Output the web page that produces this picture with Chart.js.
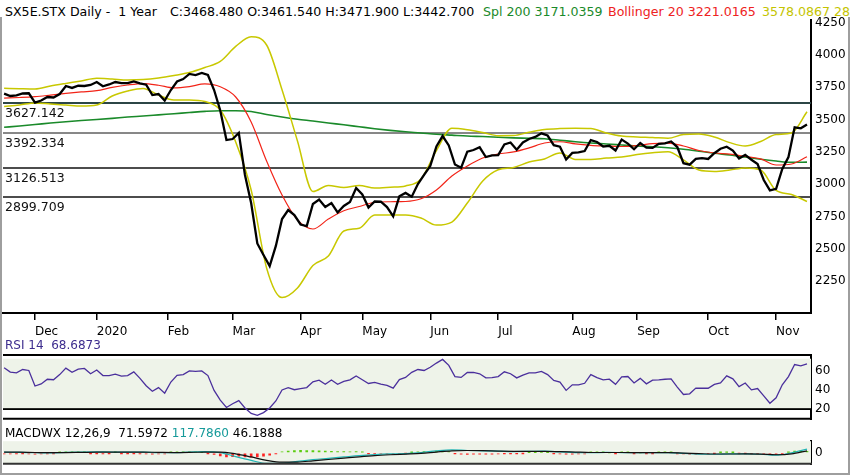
<!DOCTYPE html>
<html>
<head>
<meta charset="utf-8">
<script src="https://cdn.jsdelivr.net/npm/chart.js"></script>
<style>
  body { margin: 0; background: #fff; width: 850px; height: 475px; overflow: hidden; position: relative;
         font-family: 'DejaVu Sans', sans-serif; font-size: 12px; }
  canvas { position: absolute; left: 0; }
  .lbl { position: absolute; white-space: nowrap; line-height: 14px; }
  .hdr { top: 5px; font-size: 12.6px; }
  #frame { position: absolute; left: 0; top: 17px; width: 850px; height: 458px; box-sizing: border-box;
           border: 2px solid #9e9e9e; border-top: none; pointer-events: none; }
</style>
</head>
<body>
<div class="lbl hdr" style="left:5px">SX5E.STX Daily -&nbsp; 1 Year</div>
<div class="lbl hdr" style="left:170px">C:3468.480 O:3461.540 H:3471.900 L:3442.700</div>
<div class="lbl hdr" style="left:483px;color:#1a8a2a">Spl 200 3171.0359</div>
<div class="lbl hdr" style="left:608px;color:#ee2222">Bollinger 20 3221.0165</div>
<div class="lbl hdr" style="left:762px;color:#c4c400">3578.0867 28</div>

<canvas id="main" width="850" height="340" style="top:0"></canvas>
<canvas id="rsiChart" width="850" height="90" style="top:340px"></canvas>
<canvas id="macdChart" width="850" height="45" style="top:430px"></canvas>

<div class="lbl" style="left:5px;top:338px;color:#3d2d8e">RSI 14&nbsp; 68.6873</div>
<div class="lbl" style="left:5px;top:426px">MACDWX 12,26,9&nbsp; 71.5972 <span style="color:#169a9a">117.7860</span> 46.1888</div>
<div id="frame"></div>

<script>
// trading-day index of the first sample, spacing of the samples
const FINE_STEP = 2;     // close, RSI, MACD histogram
const SMOOTH_STEP = 5;   // bands, averages, MACD lines

const monthTickDays = [10, 30, 53, 74, 96, 116, 138, 160, 184, 205, 228, 250];
const monthLabels = ['Dec', '2020', 'Feb', 'Mar', 'Apr', 'May', 'Jun', 'Jul', 'Aug', 'Sep', 'Oct', 'Nov'];
const priceTicks = [2250, 2500, 2750, 3000, 3250, 3500, 3750, 4000, 4250];
const levels = [3627.142, 3392.334, 3126.513, 2899.709];
const rsiTicks = [20, 40, 60];
const macdTicks = [0];

const close = [
  3700, 3682, 3687, 3701, 3703, 3630, 3647, 3674, 3670, 3697,
  3759, 3744, 3761, 3759, 3767, 3790, 3757, 3771, 3790, 3781,
  3782, 3795, 3780, 3769, 3689, 3697, 3647, 3728, 3794, 3813,
  3852, 3844, 3860, 3844, 3728, 3570, 3341, 3349, 3396, 3071,
  2854, 2541, 2452, 2367, 2522, 2730, 2800, 2761, 2688, 2676,
  2846, 2881, 2823, 2854, 2781, 2831, 2862, 2970, 2920, 2819,
  2866, 2864, 2823, 2751, 2906, 2932, 2903, 3001, 3071, 3141,
  3291, 3372, 3299, 3152, 3127, 3251, 3264, 3285, 3210, 3222,
  3225, 3307, 3322, 3266, 3322, 3349, 3365, 3393, 3376, 3301,
  3290, 3191, 3242, 3245, 3256, 3341, 3326, 3291, 3297, 3260,
  3345, 3314, 3270, 3318, 3282, 3280, 3312, 3316, 3330, 3287,
  3162, 3151, 3195, 3201, 3195, 3239, 3274, 3290, 3260, 3198,
  3226, 3189, 3156, 3032, 2952, 2964, 3117, 3210, 3440, 3432,
  3462
];

const bollUpper = [
  3741, 3738, 3736, 3759, 3779, 3798, 3819, 3813, 3806, 3809,
  3821, 3840, 3863, 3902, 3949, 4065, 4140, 4076, 3730, 3334,
  2943, 2990, 2974, 2990, 2970, 2976, 2986, 3040, 3260, 3432,
  3421, 3399, 3375, 3376, 3401, 3423, 3430, 3432, 3430, 3396,
  3372, 3365, 3361, 3355, 3384, 3388, 3365, 3321, 3295, 3330,
  3384, 3396, 3560
];
const bollLower = [
  3600, 3612, 3628, 3620, 3612, 3604, 3612, 3682, 3720, 3740,
  3689, 3651, 3651, 3639, 3573, 3326, 2955, 2352, 2123, 2197,
  2371, 2444, 2638, 2659, 2761, 2761, 2761, 2738, 2684, 2707,
  2854, 3024, 3111, 3129, 3171, 3195, 3241, 3191, 3191, 3202,
  3210, 3229, 3243, 3251, 3187, 3109, 3098, 3109, 3125, 3109,
  2951, 2920, 2866
];
const bollMid = [
  3665, 3670, 3677, 3689, 3702, 3713, 3723, 3748, 3767, 3778,
  3765, 3744, 3754, 3775, 3753, 3674, 3481, 3179, 2916, 2723,
  2653, 2730, 2794, 2827, 2859, 2864, 2866, 2887, 2955, 3063,
  3140, 3202, 3233, 3249, 3280, 3318, 3328, 3311, 3300, 3295,
  3291, 3299, 3314, 3318, 3295, 3260, 3241, 3232, 3214, 3195,
  3148, 3156, 3212
];
const spl200 = [
  3440, 3450, 3461, 3473, 3483, 3492, 3500, 3509, 3519, 3527,
  3536, 3545, 3554, 3563, 3568, 3568, 3562, 3539, 3519, 3502,
  3488, 3473, 3459, 3444, 3429, 3416, 3405, 3396, 3386, 3379,
  3372, 3368, 3363, 3358, 3355, 3351, 3340, 3328, 3318, 3311,
  3303, 3295, 3289, 3281, 3270, 3255, 3239, 3226, 3210, 3193,
  3179, 3169, 3170
];

const rsi = [
  63.1, 58.5, 57.8, 61.2, 60.2, 44.0, 46.2, 51.1, 50.6, 55.9,
  62.6, 58.3, 61.6, 62.3, 56.8, 60.7, 54.9, 54.9, 56.3, 54.4,
  54.9, 58.8, 52.0, 44.3, 38.6, 42.4, 36.6, 48.2, 55.2, 55.9,
  59.7, 59.2, 59.7, 54.9, 39.5, 29.4, 21.7, 25.6, 28.9, 21.2,
  15.5, 13.6, 16.4, 21.2, 28.5, 40.0, 42.4, 40.2, 41.4, 42.4,
  48.4, 50.1, 45.8, 50.3, 45.8, 48.8, 50.4, 54.4, 50.6, 46.7,
  47.9, 46.1, 44.8, 41.9, 50.8, 53.0, 58.3, 61.2, 60.2, 63.6,
  67.9, 71.7, 65.5, 53.9, 53.0, 58.1, 58.3, 56.8, 52.5, 52.7,
  53.9, 58.8, 56.8, 52.5, 55.4, 57.8, 57.8, 59.2, 55.9, 49.9,
  48.2, 39.5, 45.3, 45.3, 46.9, 55.9, 52.7, 50.4, 51.2, 45.8,
  53.5, 53.9, 47.2, 52.0, 46.3, 50.1, 50.4, 51.1, 51.5, 42.9,
  35.2, 35.9, 41.9, 41.7, 41.7, 45.8, 47.2, 54.6, 51.5, 43.4,
  47.2, 40.0, 41.4, 33.8, 26.1, 31.8, 45.3, 53.9, 66.4, 65.0,
  67.0
];

const macd = [
  20, 15, 5, 0, 15, 25, 30, 25, 25, 20,
  5, 5, 25, 40, 10, -110, -220, -310, -300, -250,
  -200, -160, -120, -80, -50, -30, -20, 10, 60, 90,
  70, 60, 50, 40, 45, 50, 30, 10, 5, 15,
  10, 5, 5, 5, -15, -35, -40, -30, -30, -40,
  -70, 0, 110
];
const signal = [
  25, 20, 12, 6, 8, 15, 22, 25, 25, 22,
  15, 10, 15, 25, 25, -30, -120, -220, -275, -270,
  -235, -195, -155, -115, -80, -55, -35, -15, 25, 60,
  70, 65, 55, 47, 45, 47, 40, 25, 12, 12,
  12, 8, 6, 5, -5, -22, -33, -33, -31, -36,
  -55, -30, 60
];
const hist = [
  -25, -30, -20, -15, -25, -35, -30, -20, -10, 15,
  25, 20, 15, 10, -10, -15, -20, -10, 10, -5,
  -10, -15, -20, -30, -40, -30, -25, 15, 25, 30,
  25, 20, 10, -10, -45, -90, -120, -110, -100, -120,
  -130, -120, -100, -70, -20, 30, 55, 70, 75, 70,
  65, 60, 50, 45, 40, 35, 30, 35, 20, -10,
  -20, -25, -30, -40, -20, -5, 10, 25, 35, 45,
  50, 55, 40, -10, -40, -45, -40, -35, -40, -35,
  -30, -15, -10, -15, -5, 5, 10, 15, 5, -15,
  -25, -40, -35, -30, -25, 5, 10, 5, 0, -10,
  5, 5, -5, 0, -5, -5, 5, 5, 10, -5,
  -30, -40, -35, -25, -20, -5, 10, 15, 10, -5,
  -5, -15, -20, -40, -55, -50, -20, 15, 55, 50,
  45
];

const X_MIN = -0.36, X_MAX = 261.3;

Chart.defaults.font.family = "'DejaVu Sans', sans-serif";
Chart.defaults.font.size = 12;
Chart.defaults.color = '#000';

const pts = (arr, step) => arr.map((v, k) => ({ x: k * step, y: v }));

function xScale(show) {
  const s = {
    type: 'linear', min: X_MIN, max: X_MAX, offset: false, display: show,
    afterBuildTicks: sc => { sc.ticks = monthTickDays.map(v => ({ value: v })); },
    ticks: { autoSkip: false, maxRotation: 0, align: 'start', padding: 5,
             callback: (v, i) => monthLabels[i] },
    grid: { drawOnChartArea: false, drawTicks: true, tickLength: 7, color: '#000', lineWidth: 1.5 },
    border: { display: true, color: '#000', width: 2 }
  };
  if (show) s.afterFit = sc => { sc.height = 27; };
  return s;
}

function yScale(min, max, ticks, gridAt) {
  return {
    position: 'right', min: min, max: max,
    afterBuildTicks: s => { s.ticks = ticks.map(v => ({ value: v })); },
    ticks: { padding: 4, callback: v => String(v) },
    grid: gridAt === null ? { display: false, drawTicks: false } : {
      drawTicks: false, lineWidth: 2,
      color: c => (c.tick && c.tick.value === gridAt) ? '#000' : 'rgba(0,0,0,0)'
    },
    border: { display: true, color: '#000', width: 2 },
    afterFit: s => { s.width = 39; }
  };
}

// horizontal reference levels with their labels
const levelStyle = [['#2c4646', 2], ['#111', 1], ['#111', 1.5], ['#111', 1.5]];
const levelPlugin = {
  id: 'levels',
  beforeDatasetsDraw(chart) {
    const { ctx, chartArea: a, scales: { y } } = chart;
    ctx.save();
    levels.forEach((v, k) => {
      const py = Math.round(y.getPixelForValue(v));
      ctx.strokeStyle = levelStyle[k][0];
      ctx.lineWidth = levelStyle[k][1];
      ctx.beginPath();
      ctx.moveTo(a.left, py);
      ctx.lineTo(a.right, py);
      ctx.stroke();
      ctx.fillStyle = '#111';
      ctx.font = "12.5px 'DejaVu Sans'";
      ctx.textBaseline = 'top';
      ctx.fillText(v.toFixed(3), a.left + 2, py + 4);
    });
    ctx.restore();
  }
};

// shaded band and top/bottom rules of the indicator panels
const panelPlugin = {
  id: 'panel',
  beforeDatasetsDraw(chart, args, opts) {
    const { ctx, chartArea: a, scales: { y } } = chart;
    ctx.save();
    if (opts.shade) {
      const t = y.getPixelForValue(opts.shade[1]);
      const b = y.getPixelForValue(opts.shade[0]);
      ctx.fillStyle = '#eef3e9';
      ctx.fillRect(a.left, t, a.right - a.left, b - t);
    }
    ctx.restore();
  },
  afterDraw(chart, args, opts) {
    const { ctx, chartArea: a } = chart;
    ctx.save();
    ctx.strokeStyle = opts.edgeColor || '#000';
    ctx.lineWidth = 2;
    (opts.edges || []).forEach(e => {
      const py = e === 'top' ? a.top : a.bottom;
      ctx.beginPath();
      ctx.moveTo(a.left, py);
      ctx.lineTo(a.right + 1, py);
      ctx.stroke();
    });
    ctx.restore();
  }
};

const common = {
  responsive: false,
  animation: false,
  events: [],
  elements: { point: { radius: 0 } },
};

new Chart(document.getElementById('main'), {
  type: 'line',
  data: {
    datasets: [
      { data: pts(close, FINE_STEP), borderColor: '#000', borderWidth: 2.3, tension: 0 },
      { data: pts(bollMid, SMOOTH_STEP), borderColor: '#f22418', borderWidth: 1.2, cubicInterpolationMode: 'monotone' },
      { data: pts(bollUpper, SMOOTH_STEP), borderColor: '#c8c800', borderWidth: 1.5, cubicInterpolationMode: 'monotone' },
      { data: pts(bollLower, SMOOTH_STEP), borderColor: '#c8c800', borderWidth: 1.5, cubicInterpolationMode: 'monotone' },
      { data: pts(spl200, SMOOTH_STEP), borderColor: '#1a8a2a', borderWidth: 1.6, cubicInterpolationMode: 'monotone' }
    ]
  },
  options: {
    ...common,
    layout: { padding: { left: 3, top: 20, right: 0, bottom: 0 } },
    plugins: { legend: { display: false }, tooltip: { enabled: false } },
    scales: {
      x: xScale(true),
      y: yScale(2003.5, 4269.5, priceTicks, null)
    }
  },
  plugins: [levelPlugin]
});

new Chart(document.getElementById('rsiChart'), {
  type: 'line',
  data: {
    datasets: [
      { data: pts(rsi, FINE_STEP), borderColor: '#4a2f9c', borderWidth: 1.3, tension: 0 }
    ]
  },
  options: {
    ...common,
    layout: { padding: { left: 3, top: 15, right: 0, bottom: 7 } },
    plugins: { legend: { display: false }, tooltip: { enabled: false },
               panel: { shade: [21, 72.4], edges: ['top', 'bottom'] } },
    scales: {
      x: xScale(false),
      y: yScale(9.95, 76.3, rsiTicks, 20)
    }
  },
  plugins: [panelPlugin]
});

new Chart(document.getElementById('macdChart'), {
  type: 'line',
  data: {
    datasets: [
      { data: pts(signal, SMOOTH_STEP), borderColor: '#111', borderWidth: 1.2, cubicInterpolationMode: 'monotone' },
      { data: pts(macd, SMOOTH_STEP), borderColor: '#22b4b4', borderWidth: 1.2, cubicInterpolationMode: 'monotone' },
      { type: 'bar', data: pts(hist, FINE_STEP), barThickness: 2,
        backgroundColor: hist.map(v => v >= 0 ? '#5ccc10' : '#ff2222') }
    ]
  },
  options: {
    ...common,
    layout: { padding: { left: 3, top: 10, right: 0, bottom: 7 } },
    plugins: { legend: { display: false }, tooltip: { enabled: false },
               panel: { shade: [-322, 345], edges: ['bottom'], edgeColor: '#333' } },
    scales: {
      x: xScale(false),
      y: yScale(-322, 345, macdTicks, 0)
    }
  },
  plugins: [panelPlugin]
});
</script>
</body>
</html>
